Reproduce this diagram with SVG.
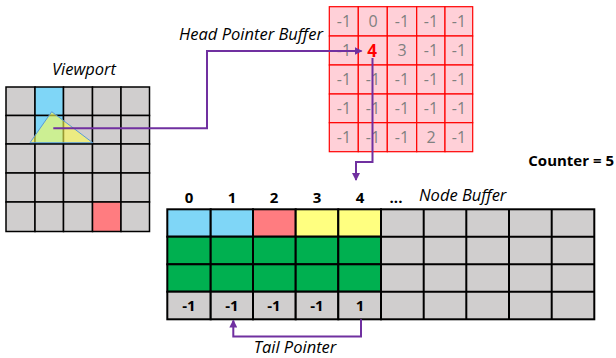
<svg xmlns="http://www.w3.org/2000/svg" width="616" height="358" viewBox="0 0 616 358">
<defs>
<style>
.vp{fill:#d0cece;stroke:#000;stroke-width:1.5}
.hp{fill:#ffd0d8;stroke:#ff0000;stroke-width:1.2}
.nb{stroke:#000;stroke-width:2}
.hv{font-family:"Open Sans","Liberation Sans",sans-serif;font-size:16px;fill:#808080;text-anchor:middle}
.lbl{font-family:"Open Sans","Liberation Sans",sans-serif;font-size:16.5px;font-style:italic;fill:#000}
.b{font-family:"Open Sans","Liberation Sans",sans-serif;font-size:15px;font-weight:bold;fill:#000;text-anchor:middle}
.con{fill:none;stroke:#7030a0;stroke-width:2}
</style>
<marker id="ah" markerWidth="8" markerHeight="8" refX="7" refY="4" orient="auto" markerUnits="userSpaceOnUse" viewBox="0 0 8 8">
<path d="M0,0 L8,4 L0,8 z" fill="#7030a0"/>
</marker>
</defs>
<rect width="616" height="358" fill="#fff"/>

<g id="viewport">
<text class="lbl" x="84" y="75" text-anchor="middle">Viewport</text>
<g class="vp">
<rect x="6" y="87" width="29" height="28.5"/><rect x="35" y="87" width="28.5" height="28.5" fill="#7fd6f7"/><rect x="63.5" y="87" width="29" height="28.5"/><rect x="92.5" y="87" width="28.5" height="28.5"/><rect x="121" y="87" width="28.5" height="28.5"/>
<rect x="6" y="115.5" width="29" height="28.5"/><rect x="35" y="115.5" width="28.5" height="28.5" fill="#7fd6f7"/><rect x="63.5" y="115.5" width="29" height="28.5"/><rect x="92.5" y="115.5" width="28.5" height="28.5"/><rect x="121" y="115.5" width="28.5" height="28.5"/>
<rect x="6" y="144" width="29" height="29"/><rect x="35" y="144" width="28.5" height="29"/><rect x="63.5" y="144" width="29" height="29"/><rect x="92.5" y="144" width="28.5" height="29"/><rect x="121" y="144" width="28.5" height="29"/>
<rect x="6" y="173" width="29" height="29"/><rect x="35" y="173" width="28.5" height="29"/><rect x="63.5" y="173" width="29" height="29"/><rect x="92.5" y="173" width="28.5" height="29"/><rect x="121" y="173" width="28.5" height="29"/>
<rect x="6" y="202" width="29" height="29.5"/><rect x="35" y="202" width="28.5" height="29.5"/><rect x="63.5" y="202" width="29" height="29.5"/><rect x="92.5" y="202" width="28.5" height="29.5" fill="#ff7c80"/><rect x="121" y="202" width="28.5" height="29.5"/>
</g>
<polygon points="51.7,111.7 30,142.7 92.7,142.7" fill="#ffff50" fill-opacity="0.6" stroke="#5b9bd5" stroke-width="1"/>
</g>

<g id="head-pointer-buffer">
<text class="lbl" x="251" y="40" text-anchor="middle">Head Pointer Buffer</text>
<g class="hp">
<rect x="329.3" y="6.7" width="29" height="29.3"/><rect x="358.3" y="6.7" width="29" height="29.3"/><rect x="387.3" y="6.7" width="29.4" height="29.3"/><rect x="416.7" y="6.7" width="28.3" height="29.3"/><rect x="445" y="6.7" width="27.7" height="29.3"/>
<rect x="329.3" y="36" width="29" height="29"/><rect x="358.3" y="36" width="29" height="29"/><rect x="387.3" y="36" width="29.4" height="29"/><rect x="416.7" y="36" width="28.3" height="29"/><rect x="445" y="36" width="27.7" height="29"/>
<rect x="329.3" y="65" width="29" height="29"/><rect x="358.3" y="65" width="29" height="29"/><rect x="387.3" y="65" width="29.4" height="29"/><rect x="416.7" y="65" width="28.3" height="29"/><rect x="445" y="65" width="27.7" height="29"/>
<rect x="329.3" y="94" width="29" height="28.7"/><rect x="358.3" y="94" width="29" height="28.7"/><rect x="387.3" y="94" width="29.4" height="28.7"/><rect x="416.7" y="94" width="28.3" height="28.7"/><rect x="445" y="94" width="27.7" height="28.7"/>
<rect x="329.3" y="122.7" width="29" height="29"/><rect x="358.3" y="122.7" width="29" height="29"/><rect x="387.3" y="122.7" width="29.4" height="29"/><rect x="416.7" y="122.7" width="28.3" height="29"/><rect x="445" y="122.7" width="27.7" height="29"/>
</g>
<g class="hv">
<text x="344" y="27">-1</text><text x="373" y="27">0</text><text x="402" y="27">-1</text><text x="431" y="27">-1</text><text x="459" y="27">-1</text>
<text x="344" y="56">-1</text><text x="402" y="56">3</text><text x="431" y="56">-1</text><text x="459" y="56">-1</text>
<text x="344" y="85">-1</text><text x="373" y="85">-1</text><text x="402" y="85">-1</text><text x="431" y="85">-1</text><text x="459" y="85">-1</text>
<text x="344" y="114">-1</text><text x="373" y="114">-1</text><text x="402" y="114">-1</text><text x="431" y="114">-1</text><text x="459" y="114">-1</text>
<text x="344" y="143">-1</text><text x="373" y="143">-1</text><text x="402" y="143">-1</text><text x="431" y="143">2</text><text x="459" y="143">-1</text>
</g>
<text x="372" y="57" font-family="Open Sans, Liberation Sans, sans-serif" font-size="17" font-weight="bold" fill="#ff0000" text-anchor="middle">4</text>
</g>

<g id="counter">
<text class="b" x="614" y="166" style="text-anchor:end">Counter = 5</text>
</g>

<g id="node-buffer">
<g class="b">
<text x="189" y="203">0</text><text x="232" y="203">1</text><text x="274" y="203">2</text><text x="317" y="203">3</text><text x="360" y="203">4</text><text x="396" y="203">...</text>
</g>
<text class="lbl" x="419" y="201">Node Buffer</text>
<g class="nb">
<rect x="167.3" y="209.3" width="43.4" height="27.4" fill="#7fd6f7"/><rect x="210.7" y="209.3" width="42.3" height="27.4" fill="#7fd6f7"/><rect x="253" y="209.3" width="42.7" height="27.4" fill="#ff7c80"/><rect x="295.7" y="209.3" width="42.6" height="27.4" fill="#ffff80"/><rect x="338.3" y="209.3" width="42.7" height="27.4" fill="#ffff80"/>
<rect x="167.3" y="236.7" width="43.4" height="27.6" fill="#00b050"/><rect x="210.7" y="236.7" width="42.3" height="27.6" fill="#00b050"/><rect x="253" y="236.7" width="42.7" height="27.6" fill="#00b050"/><rect x="295.7" y="236.7" width="42.6" height="27.6" fill="#00b050"/><rect x="338.3" y="236.7" width="42.7" height="27.6" fill="#00b050"/>
<rect x="167.3" y="264.3" width="43.4" height="27.4" fill="#00b050"/><rect x="210.7" y="264.3" width="42.3" height="27.4" fill="#00b050"/><rect x="253" y="264.3" width="42.7" height="27.4" fill="#00b050"/><rect x="295.7" y="264.3" width="42.6" height="27.4" fill="#00b050"/><rect x="338.3" y="264.3" width="42.7" height="27.4" fill="#00b050"/>
<rect x="167.3" y="291.7" width="43.4" height="27.6" fill="#d0cece"/><rect x="210.7" y="291.7" width="42.3" height="27.6" fill="#d0cece"/><rect x="253" y="291.7" width="42.7" height="27.6" fill="#d0cece"/><rect x="295.7" y="291.7" width="42.6" height="27.6" fill="#d0cece"/><rect x="338.3" y="291.7" width="42.7" height="27.6" fill="#d0cece"/>
<rect x="381" y="209.3" width="213.3" height="110" fill="#d0cece"/>
<path d="M423.7,209.3V319.3M466.3,209.3V319.3M509,209.3V319.3M551.7,209.3V319.3M381,236.7H594.3M381,264.3H594.3M381,291.7H594.3" fill="none"/>
</g>
<g class="b">
<text x="189" y="311">-1</text><text x="232" y="311">-1</text><text x="274" y="311">-1</text><text x="317" y="311">-1</text><text x="360" y="311">1</text>
</g>
<text class="lbl" x="295" y="353" text-anchor="middle">Tail Pointer</text>
</g>

<g id="connectors">
<path class="con" d="M53.3,128.3H207V51H361.5" marker-end="url(#ah)"/>
<path class="con" d="M372.5,58V162H356V180" marker-end="url(#ah)"/>
<path class="con" d="M361,319.3V336.5H233.3V320.5" marker-end="url(#ah)"/>
</g>
</svg>
